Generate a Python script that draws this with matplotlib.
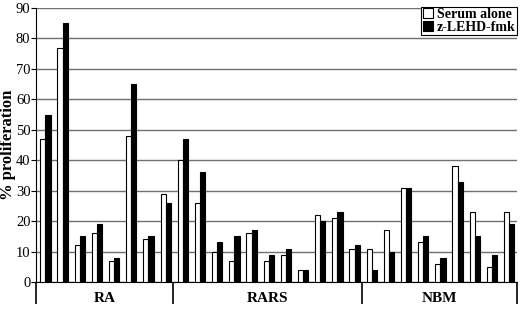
import matplotlib
matplotlib.use("Agg")
import matplotlib.pyplot as plt
from matplotlib.patches import Patch
import numpy as np

plt.rcParams["font.family"] = ["Liberation Serif", "DejaVu Serif"]

groups = ["RA", "RARS", "NBM"]
group_sizes = [8, 11, 9]
serum_alone = [47, 77, 12, 16, 7, 48, 14, 29,
               40, 26, 10, 7, 16, 7, 9, 4, 22, 21, 11,
               11, 17, 31, 13, 6, 38, 23, 5, 23]
z_lehd_fmk = [55, 85, 15, 19, 8, 65, 15, 26,
              47, 36, 13, 15, 17, 9, 11, 4, 20, 23, 12,
              4, 10, 31, 15, 8, 33, 15, 9, 19]
yticks = list(range(0, 100, 10))

fig = plt.figure(figsize=(5.2, 3.15), dpi=100)
ax = fig.add_axes([0.0692, 0.1048, 0.9248, 0.8698])

n = len(serum_alone)
x = np.arange(n)
w = 0.3
ax.bar(x + 0.25, serum_alone, width=w, align="edge", color="white",
       edgecolor="black", linewidth=0.8, zorder=3)
ax.bar(x + 0.25 + w, z_lehd_fmk, width=w, align="edge", color="black",
       edgecolor="black", linewidth=0.8, zorder=3)

ax.set_xlim(0, n)
ax.set_ylim(0, 90)
ax.set_yticks(yticks)
ax.tick_params(axis="y", labelsize=10.5, length=3.5, width=0.8, pad=0.5)
ax.yaxis.grid(True, color="#707070", linewidth=1)
ax.set_axisbelow(True)

# group boundaries and labels
bounds = np.concatenate([[0], np.cumsum(group_sizes)])
centers = (bounds[:-1] + bounds[1:]) / 2
ax.set_xticks(bounds, minor=True)
ax.set_xticks(centers)
ax.set_xticklabels(groups, fontsize=11, fontweight="bold")
ax.tick_params(axis="x", which="major", length=0, pad=7)
ax.tick_params(axis="x", which="minor", length=16, width=1.2)

for s in ["top", "right"]:
    ax.spines[s].set_visible(False)
ax.spines["left"].set_linewidth(0.8)
ax.spines["bottom"].set_linewidth(0.8)

ax.set_ylabel("% proliferation", fontsize=12, fontweight="bold")
ax.yaxis.set_label_coords(-0.042, 0.5)

handles = [Patch(facecolor="white", edgecolor="black", linewidth=0.8),
           Patch(facecolor="black", edgecolor="black", linewidth=0.8)]
leg = ax.legend(handles, ["Serum alone", "z-LEHD-fmk"], loc="upper right",
                bbox_to_anchor=(1.0, 1.005), borderaxespad=0, fancybox=False,
                edgecolor="black", framealpha=1, handlelength=0.7,
                handleheight=0.7, handletextpad=0.3, borderpad=0.1,
                labelspacing=0.0, prop={"size": 10, "weight": "bold"})
leg.get_frame().set_linewidth(0.8)

fig.savefig("out.png", dpi=100)
